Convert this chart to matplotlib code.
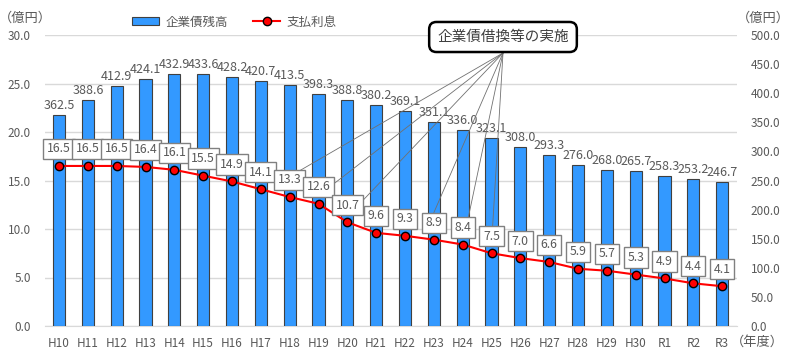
import matplotlib
matplotlib.use("Agg")
import matplotlib.pyplot as plt
import matplotlib.transforms as mtransforms
from matplotlib.lines import Line2D
from matplotlib.patches import Patch
import numpy as np

plt.rcParams['font.family'] = ['Noto Sans CJK JP', 'DejaVu Sans']

categories = ["H10", "H11", "H12", "H13", "H14", "H15", "H16", "H17", "H18", "H19",
              "H20", "H21", "H22", "H23", "H24", "H25", "H26", "H27", "H28", "H29",
              "H30", "R1", "R2", "R3"]
debt_balance = [362.5, 388.6, 412.9, 424.1, 432.9, 433.6, 428.2, 420.7, 413.5, 398.3,
                388.8, 380.2, 369.1, 351.1, 336.0, 323.1, 308.0, 293.3, 276.0, 268.0,
                265.7, 258.3, 253.2, 246.7]
interest = [16.5, 16.5, 16.5, 16.4, 16.1, 15.5, 14.9, 14.1, 13.3, 12.6,
            10.7, 9.6, 9.3, 8.9, 8.4, 7.5, 7.0, 6.6, 5.9, 5.7,
            5.3, 4.9, 4.4, 4.1]
left_ticks = [0, 5, 10, 15, 20, 25, 30]
right_ticks = [0, 50, 100, 150, 200, 250, 300, 350, 400, 450, 500]
refinance_years = ["H18", "H19", "H20", "H23", "H24", "H25"]
# leader end offsets (pixels) relative to each point
leader_offsets = [(6, 24), (14, 19), (11, 17), (0, 27), (5, 24), (1, 25)]

TXT = "#595959"
W, H = 794, 359
fig = plt.figure(figsize=(W / 100, H / 100), dpi=100)
pos = [44.6 / W, 33 / H, 692 / W, 291 / H]

x = np.arange(len(categories))

# base axes: grid + left ticks
ax = fig.add_axes(pos)
ax.set_ylim(0, 30)
ax.set_xlim(-0.5, len(categories) - 0.5)
ax.set_yticks(left_ticks)
ax.set_yticklabels([f"{v:.1f}" for v in left_ticks])
ax.grid(axis='y', color='#D9D9D9', linewidth=1)
ax.set_axisbelow(True)
for s in ax.spines.values():
    s.set_visible(False)
ax.spines['bottom'].set_visible(True)
ax.spines['bottom'].set_color('#D9D9D9')
ax.tick_params(axis='y', length=0, pad=10, labelsize=8.5, labelcolor=TXT)
ax.tick_params(axis='x', length=0, pad=8, labelsize=8.5, labelcolor=TXT)
ax.set_xticks(x)
ax.set_xticklabels(categories)

# bar axes (right)
ax2 = ax.twinx()
ax2.set_ylim(0, 500)
ax2.set_yticks(right_ticks)
ax2.set_yticklabels([f"{v:.1f}" for v in right_ticks])
ax2.tick_params(axis='y', length=0, pad=10, labelsize=8.5, labelcolor=TXT)
for s in ax2.spines.values():
    s.set_visible(False)
ax2.patch.set_visible(False)
bars = ax2.bar(x, debt_balance, width=0.42, color='#3399FF', edgecolor='#404040',
               linewidth=0.8, zorder=2)
for xi, v in zip(x, debt_balance):
    ax2.annotate(f"{v:.1f}", (xi, v), xytext=(0, 3), textcoords='offset pixels',
                 ha='center', va='bottom', fontsize=9, color=TXT)

# line axes (left scale, on top)
ax3 = fig.add_axes(pos, sharex=ax, sharey=ax)
ax3.set_zorder(ax2.get_zorder() + 1)
ax3.patch.set_visible(False)
ax3.axis('off')
ax3.plot(x, interest, color='#FF0000', linewidth=1.5, marker='o', markersize=6,
         markerfacecolor='#FF0000', markeredgecolor='black', markeredgewidth=1, zorder=3)
for xi, v in zip(x, interest):
    ax3.annotate(f"{v:.1f}", (xi, v), xytext=(0, 17), textcoords='offset pixels',
                 ha='center', va='center', fontsize=8.8, color=TXT, zorder=5,
                 bbox=dict(boxstyle='square,pad=0.3', fc='white', ec='#808080', lw=1))

# callout box
fig.text(503 / W, 1 - 37 / H, "企業債借換等の実施", ha='center', va='center',
         fontsize=10.5, color='#404040', zorder=10,
         bbox=dict(boxstyle='round,pad=0.55,rounding_size=0.5', fc='white', ec='black', lw=1.8))

# leader lines
for yr, (dx, dy) in zip(refinance_years, leader_offsets):
    i = categories.index(yr)
    tr = mtransforms.offset_copy(ax3.transData, fig=fig, x=dx, y=dy, units='dots')
    ax3.annotate("", xy=(i, interest[i]), xycoords=tr,
                 xytext=(503, H - 53), textcoords='figure pixels',
                 arrowprops=dict(arrowstyle='-', color='#707070', lw=0.6,
                                 shrinkA=0, shrinkB=0), zorder=4)

# unit labels
fig.text(25 / W, 1 - 18 / H, "（億円）", ha='center', va='center', fontsize=9.5, color=TXT)
fig.text(763 / W, 1 - 18 / H, "（億円）", ha='center', va='center', fontsize=9.5, color=TXT)
fig.text(757 / W, 1 - 342 / H, "（年度）", ha='center', va='center', fontsize=9.5, color=TXT)

# legend
handles = [Patch(facecolor='#3399FF', edgecolor='#404040', linewidth=0.8),
           Line2D([0], [0], color='#FF0000', lw=1.5, marker='o', markersize=6,
                  markerfacecolor='#FF0000', markeredgecolor='black')]
fig.legend(handles, ["企業債残高", "支払利息"], loc='center', bbox_to_anchor=(234 / W, 1 - 22 / H),
           ncol=2, frameon=False, fontsize=9, labelcolor=TXT, handlelength=2.2,
           handleheight=0.6, columnspacing=2.0, handletextpad=0.5)

fig.savefig("out.png", dpi=100)
